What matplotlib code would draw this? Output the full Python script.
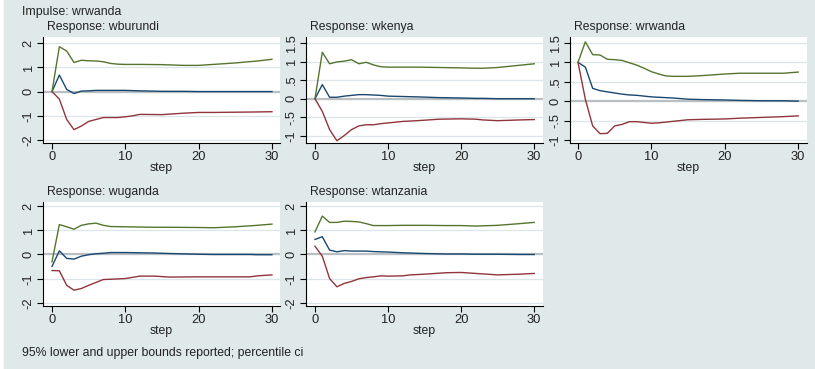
import matplotlib
matplotlib.use("Agg")
import matplotlib.pyplot as plt
from matplotlib.patches import Rectangle

plt.rcParams['font.family'] = ['Liberation Sans', 'DejaVu Sans']

## data (step, value)
steps_burundi = [0, 1, 2, 3, 4, 5, 6, 7, 8, 9, 10, 11, 12, 15, 18, 20, 22, 25, 28, 30]
irf_burundi = [0, 0.68, 0.09, -0.08, 0.02, 0.03, 0.05, 0.05, 0.05, 0.05, 0.05, 0.04, 0.03, 0.01, 0.01, 0.0, 0.0, 0.0, 0.0, 0.0]
lo_burundi = [0, -0.31, -1.15, -1.57, -1.42, -1.23, -1.15, -1.07, -1.07, -1.07, -1.04, -1.0, -0.94, -0.95, -0.89, -0.86, -0.86, -0.85, -0.84, -0.83]
hi_burundi = [0, 1.85, 1.67, 1.2, 1.29, 1.27, 1.26, 1.23, 1.16, 1.13, 1.12, 1.12, 1.12, 1.11, 1.08, 1.08, 1.12, 1.18, 1.26, 1.33]

steps_kenya = [0, 1, 2, 3, 4, 5, 6, 7, 8, 9, 10, 12, 14, 17, 20, 22, 23, 25, 28, 30]
irf_kenya = [0, 0.38, 0.04, 0.04, 0.07, 0.09, 0.11, 0.11, 0.1, 0.09, 0.07, 0.06, 0.05, 0.03, 0.02, 0.01, 0.01, 0.0, 0.0, 0.0]
lo_kenya = [0, -0.34, -0.83, -1.13, -0.99, -0.83, -0.73, -0.7, -0.7, -0.67, -0.65, -0.61, -0.59, -0.55, -0.54, -0.55, -0.57, -0.59, -0.57, -0.56]
hi_kenya = [0, 1.25, 0.94, 0.99, 1.01, 1.05, 0.94, 0.98, 0.91, 0.86, 0.85, 0.85, 0.85, 0.84, 0.83, 0.82, 0.82, 0.84, 0.9, 0.94]

steps_rwanda = [0, 1, 2, 3, 4, 5, 6, 7, 8, 9, 10, 11, 12, 13, 15, 17, 20, 22, 25, 28, 30]
irf_rwanda = [1.0, 0.88, 0.33, 0.27, 0.24, 0.21, 0.18, 0.16, 0.15, 0.13, 0.11, 0.1, 0.09, 0.08, 0.05, 0.04, 0.03, 0.02, 0.01, 0.01, 0.0]
lo_rwanda = [1.0, 0.05, -0.64, -0.84, -0.83, -0.64, -0.6, -0.53, -0.53, -0.55, -0.57, -0.56, -0.54, -0.52, -0.48, -0.47, -0.46, -0.44, -0.42, -0.4, -0.38]
hi_rwanda = [1.0, 1.53, 1.2, 1.19, 1.08, 1.07, 1.05, 0.99, 0.93, 0.85, 0.76, 0.7, 0.65, 0.64, 0.64, 0.66, 0.7, 0.72, 0.72, 0.72, 0.75]

steps_uganda = [0, 1, 2, 3, 4, 5, 6, 7, 8, 10, 12, 14, 16, 20, 22, 25, 27, 28, 30]
irf_uganda = [-0.49, 0.15, -0.16, -0.19, -0.07, -0.01, 0.03, 0.05, 0.08, 0.08, 0.07, 0.06, 0.04, 0.01, 0.0, 0.0, 0.0, -0.01, -0.01]
lo_uganda = [-0.66, -0.67, -1.27, -1.47, -1.4, -1.27, -1.15, -1.03, -1.02, -0.99, -0.89, -0.89, -0.93, -0.92, -0.92, -0.92, -0.92, -0.88, -0.84]
hi_uganda = [-0.3, 1.23, 1.14, 1.04, 1.2, 1.26, 1.29, 1.2, 1.15, 1.14, 1.13, 1.12, 1.12, 1.11, 1.1, 1.14, 1.18, 1.2, 1.25]

steps_tanzania = [0, 1, 2, 3, 4, 5, 6, 7, 8, 9, 10, 12, 13, 15, 18, 20, 22, 25, 28, 30]
irf_tanzania = [0.62, 0.73, 0.18, 0.11, 0.16, 0.14, 0.14, 0.14, 0.12, 0.11, 0.1, 0.07, 0.06, 0.04, 0.02, 0.02, 0.01, 0.01, 0.0, 0.0]
lo_tanzania = [0.34, -0.07, -0.99, -1.33, -1.19, -1.11, -1.0, -0.95, -0.92, -0.88, -0.89, -0.88, -0.84, -0.81, -0.75, -0.74, -0.78, -0.84, -0.81, -0.78]
hi_tanzania = [0.93, 1.58, 1.32, 1.32, 1.37, 1.36, 1.34, 1.27, 1.19, 1.19, 1.19, 1.2, 1.2, 1.2, 1.19, 1.19, 1.17, 1.2, 1.27, 1.32]

ticks_wide = [-2, -1, 0, 1, 2]
labels_wide = ["-2", "-1", "0", "1", "2"]
ticks_narrow = [-1, -0.5, 0, 0.5, 1, 1.5]
labels_narrow = ["-1", "-.5", "0", ".5", "1", "1.5"]

## colours (stata s2color)
navy = '#1A476F'
maroon = '#90353B'
green = '#55752F'
bg = '#DFE9EA'
grid = '#DCE6E8'

W, H = 815, 369
fig = plt.figure(figsize=(W / 100, H / 100), dpi=100, facecolor='white')
fig.patches.append(Rectangle((4 / W, 0), 1, 1, transform=fig.transFigure, color=bg, zorder=-10))

def px_axes(x0, y0, x1, y1):
    return fig.add_axes([x0 / W, 1 - y1 / H, (x1 - x0) / W, (y1 - y0) / H])

panels = [
    ("wburundi", steps_burundi, irf_burundi, lo_burundi, hi_burundi, (43, 37, 280, 143), (-1.23, 31.1), (-2.12, 2.25), ticks_wide, labels_wide),
    ("wkenya", steps_kenya, irf_kenya, lo_kenya, hi_kenya, (306, 37, 543, 143), (-1.23, 31.2), (-1.19, 1.66), ticks_narrow, labels_narrow),
    ("wrwanda", steps_rwanda, irf_rwanda, lo_rwanda, hi_rwanda, (570, 37, 807, 143), (-1.09, 31.2), (-1.08, 1.655), ticks_narrow, labels_narrow),
    ("wuganda", steps_uganda, irf_uganda, lo_uganda, hi_uganda, (43, 202, 280, 306), (-1.23, 31.1), (-2.12, 2.16), ticks_wide, labels_wide),
    ("wtanzania", steps_tanzania, irf_tanzania, lo_tanzania, hi_tanzania, (306, 202, 543, 306), (-1.23, 31.2), (-2.12, 2.16), ticks_wide, labels_wide),
]

fs = 8.85
tfs = 9.3
for name, st, irf, lo, hi, box, xl, yl, yt, ylab in panels:
    ax = px_axes(*box)
    ax.set_facecolor('white')
    for t in yt:
        ax.axhline(t, color=grid, lw=0.9, zorder=1)
    ax.axhline(0, color='#B9BFC2', lw=1.6, zorder=2)
    ax.plot(st, irf, color=navy, lw=1.0, zorder=3)
    ax.plot(st, lo, color=maroon, lw=1.0, zorder=3)
    ax.plot(st, hi, color=green, lw=1.0, zorder=3)
    ax.set_xlim(*xl)
    ax.set_ylim(*yl)
    ax.set_xticks([0, 10, 20, 30])
    ax.set_yticks(yt)
    ax.set_yticklabels(ylab, rotation=90, va='center')
    for s in ['top', 'right']:
        ax.spines[s].set_visible(False)
    for s in ['left', 'bottom']:
        ax.spines[s].set_linewidth(0.8)
        ax.spines[s].set_color('black')
    ax.tick_params(direction='out', length=4, width=0.8, labelsize=tfs, pad=2, colors='black')
    ax.tick_params(axis='y', labelcolor='#222222')
    ax.tick_params(axis='x', labelcolor='#222222')
    ax.set_xlabel("step", fontsize=fs, labelpad=-1, color='#222222')
    fig.text((box[0] + 4) / W, 1 - (box[1] - 10) / H, "Response: " + name,
             fontsize=fs, ha='left', va='center', color='#222222')

fig.text(22 / W, 1 - 12 / H, "Impulse: wrwanda", fontsize=fs, ha='left', va='center', color='#222222')
fig.text(22 / W, 1 - 353 / H, "95% lower and upper bounds reported; percentile ci",
         fontsize=fs, ha='left', va='center', color='#222222')

plt.savefig("out.png", dpi=100, facecolor=fig.get_facecolor())
